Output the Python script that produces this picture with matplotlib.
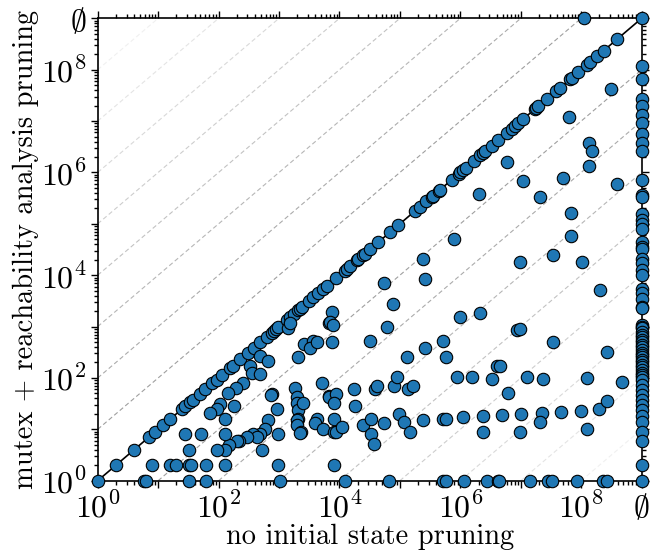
import numpy as np
import matplotlib
matplotlib.use('Agg')
import matplotlib.pyplot as plt
from matplotlib.ticker import FixedLocator, LogLocator, NullFormatter

plt.rcParams['font.family'] = 'serif'
plt.rcParams['font.serif'] = ['cmr10']
plt.rcParams['mathtext.fontset'] = 'cm'
plt.rcParams['axes.unicode_minus'] = False

# np.inf = not solved, drawn on the "∅" line at 1e9
UNSOLVED_POS = 1e9

# tasks with equal counts in both configurations
diag_states = [1, 2, 4, 7, 9, 12, 16, 25, 28, 34, 38, 49, 60, 78, 93, 112, 155, 174,
               229, 309, 380, 490, 631, 760, 813, 900, 977, 1349, 1514, 1738, 2089,
               2239, 2399, 3090, 3715, 4467, 5370, 6166, 8913, 1.23e4, 1.32e4, 1.51e4,
               1.95e4, 2.04e4, 2.45e4, 2.63e4, 3.24e4, 4.37e4, 6.92e4, 9.33e4, 1.78e5,
               2.14e5, 2.75e5, 3.4e5, 3.55e5, 4.4e5, 4.57e5, 7.24e5, 9.33e5, 1.0e6,
               1.10e6, 1.23e6, 1.66e6, 2.14e6, 2.40e6, 2.57e6, 3.31e6, 4.27e6, 5.89e6,
               7.08e6, 7.94e6, 9.12e6, 1.10e7, 1.70e7, 1.82e7, 1.95e7, 2.69e7, 3.89e7,
               4.47e7, 6.46e7, 6.92e7, 8.91e7, 1.23e8, 1.41e8, 1.82e8, 2.34e8, 3.89e8,
               np.inf]

# no initial state pruning (x) vs mutex + reachability analysis pruning (y)
base_states = [490, 661, 331, 355, 490, 251, 191, 145, 759, 740, 182, 105, 93, 71, 129,
               912, 661, 589, 490, 372, 427, 295, 214, 205, 151, 129, 93, 513, 977, 28,
               52, 129, 32,
               1413, 1514, 2089, 1820, 1950, 1950, 2089, 2089, 1995, 1995, 2344, 2239,
               2512, 2570, 3715, 3236, 4169, 5129, 6607, 4169, 3981, 5370, 6607,
               7413, 6918, 7762, 7413, 7.76e4, 6.03e4, 3.24e4, 2.63e5, 5.25e5, 1.29e5,
               5.89e5, 1.0e6, 6607, 8913, 8128, 1.74e4, 3.89e4, 4.17e4, 8.13e4, 8.91e4,
               1.38e5, 1.62e5, 8.71e5, 1.82e4, 8128, 8128, 8913, 1.10e4, 2.45e4, 3.31e4,
               3.31e4, 3.72e4, 5.37e4, 9.77e4, 1.15e5, 1.48e5, 2.45e5, 5.13e5, 5.75e5,
               1.12e6,
               2.14e6, 8.51e6, 9.77e6, 3.39e7, 2.63e8, 3.98e6, 4.57e6, 1.58e6, 3.31e6,
               1.26e7, 2.34e7, 1.26e8, 4.68e8, 6.17e6, 2.34e6, 2.34e6, 4.90e6, 1.02e7,
               9.55e6, 2.24e7, 2.09e7, 4.68e7, 9.77e7, 1.26e8, 2.0e8, 2.63e8,
               5.37e4, 2.45e5, 2.63e5, 7.94e5,
               1.32e8, 1.48e8, 5.89e6, 1.35e8, 1.10e7, 5.01e7, 3.98e8, 2.0e6, 2.09e7,
               6.76e7, 6.76e7, 3.39e7, 9.55e6, 1.02e8, 2.04e8,
               1.1e8, 3.09e8, 6.31e7,
               8, 16, 20, 32, 35, 63, 129, 977, 8128,
               5.9, 6.3, 32, 63, 1047, 1.23e4, 6.6e4, 5.1e5, 5.9e5, 1.17e6, 2.75e6,
               4.17e6, 4.37e6, 1.41e7, 2.8e7, 3.3e7, 8.5e7, 2.3e8, 2.7e8]
pruned_states = [269, 209, 170, 126, 120, 79, 63, 51, 49, 47, 28, 31, 25, 21, 16,
                 25, 15, 10, 8, 8, 7, 7, 6, 6, 5, 4, 4, 4, 8, 8,
                 8, 8, 4,
                 933, 1148, 251, 63, 43, 32, 24, 16, 15, 12, 9, 8.3,
                 32, 468, 513, 380, 490, 79, 45, 16, 13, 10, 1148,
                 1950, 1202, 1072, 490, 2754, 977, 513, 389, 513, 257,
                 251, 1549, 43, 49, 33, 60, 60, 69, 69, 102,
                 60, 69, 102, 28, 16, 8.9, 8.9, 11, 12, 16,
                 8.1, 5.1, 13, 20, 14, 8.9, 15, 16, 16,
                 17,
                 1820, 851, 891, 490, 324, 170, 170, 102, 95,
                 102, 95, 100, 85, 51, 18, 8.9, 19, 20,
                 8.9, 21, 14, 22, 23, 10, 25, 35,
                 7079, 2.04e4, 8318, 5.01e4,
                 3.72e6, 2.63e6, 1.62e6, 1.32e6, 6.92e5, 7.94e5, 5.89e5, 3.89e5, 3.31e5,
                 1.66e5, 5.75e4, 2.45e4, 1.82e4, 1.82e4, 5129,
                 np.inf, 4.17e7, 1.2e7,
                 2, 2, 2, 2, 2, 2, 2, 2, 2,
                 1, 1, 1, 1, 1, 1, 1, 1, 1, 1, 1,
                 1, 1, 1, 1, 1, 1, 1, 1]

# solved only with mutex + reachability pruning (x = unsolved)
only_pruned_states = [1.17e8, 6.6e7, 2.63e7, 1.95e7, 1.32e7, 9.3e6, 5.5e6, 3.7e6, 2.6e6,
                      7.1e5, 3.6e5, 3.3e5, 1.58e5, 1.17e5, 1.0e5, 7.9e4, 4.5e4, 3.6e4,
                      3.3e4, 2.1e4, 1.7e4, 1.26e4, 1.0e4, 5500, 4500, 3500, 2450, 2300,
                      1070, 1000, 930, 790, 690, 620, 550, 500, 440, 400, 350, 310, 280,
                      250, 220, 200, 180, 165, 140, 123, 112, 105, 91, 72, 59, 47, 37,
                      30, 24, 18, 14, 9, 6, 2, 1]

ticks = [1e0, 1e1, 1e2, 1e3, 1e4, 1e5, 1e6, 1e7, 1e8, 1e9]
tick_labels = [r'$10^{0}$', '', r'$10^{2}$', '', r'$10^{4}$', '', r'$10^{6}$', '',
               r'$10^{8}$', r'$\emptyset$']


def pos(vals):
    v = np.array(vals, dtype=float)
    v[np.isinf(v)] = UNSOLVED_POS
    return v


xs = np.concatenate([pos(diag_states), pos(base_states),
                     pos([np.inf] * len(only_pruned_states))])
ys = np.concatenate([pos(diag_states), pos(pruned_states), pos(only_pruned_states)])

fig = plt.figure(figsize=(6.67, 5.52), dpi=100)
ax = fig.add_axes([0.1465, 0.1292, 0.8155, 0.8376])
ax.set_xscale('log')
ax.set_yscale('log')

# guide lines for factor 10^k differences
for k in range(1, 9):
    shade = 0.58 + 0.045 * k
    c = (shade, shade, shade)
    ax.plot([1, 10 ** (9 - k)], [10 ** k, 1e9], ls=(0, (4, 2.5)), color=c, lw=0.8, zorder=1)
    ax.plot([10 ** k, 1e9], [1, 10 ** (9 - k)], ls=(0, (4, 2.5)), color=c, lw=0.8, zorder=1)
ax.plot([1, 1e9], [1, 1e9], color='black', lw=1.2, zorder=2)

ax.scatter(xs, ys, s=80, color='#1f77b4', edgecolors='black', linewidths=0.8,
           zorder=3, clip_on=False)

ax.set_xlim(1, 1e9)
ax.set_ylim(1, 1e9)

for axis in (ax.xaxis, ax.yaxis):
    axis.set_major_locator(FixedLocator(ticks))
    axis.set_minor_locator(LogLocator(base=10, subs=np.arange(2, 10), numticks=20))
    axis.set_minor_formatter(NullFormatter())
ax.set_xticklabels(tick_labels)
ax.set_yticklabels(tick_labels)

ax.tick_params(which='both', direction='out', top=True, right=True, labelsize=23, width=1)
ax.tick_params(which='major', length=5, pad=3)
ax.tick_params(which='minor', length=3)
for s in ax.spines.values():
    s.set_linewidth(1.2)

ax.set_xlabel('no initial state pruning', fontsize=20.5, labelpad=0)
ax.set_ylabel('mutex + reachability analysis pruning', fontsize=20.5, labelpad=1)

fig.savefig('out.png', dpi=100)
